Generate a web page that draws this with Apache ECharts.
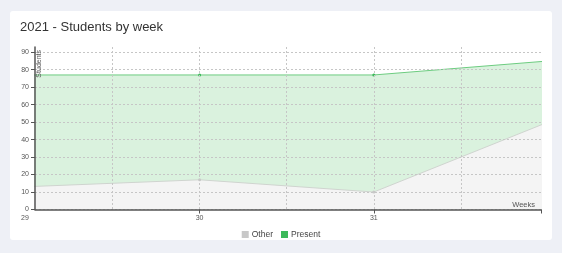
<!DOCTYPE html>
<html>
<head>
<meta charset="utf-8">
<script src="https://cdn.jsdelivr.net/npm/echarts@6/dist/echarts.min.js"></script>
<style>
html,body{margin:0;padding:0;background:#eef0f6;width:562px;height:253px;overflow:hidden;}
#card{position:absolute;left:10px;top:11px;width:542px;height:229px;background:#fff;border-radius:3px;}
#chart{position:absolute;left:0;top:0;width:562px;height:253px;}
</style>
</head>
<body>
<div id="card"></div>
<div id="chart"></div>
<script>
const title = '2021 - Students by week';
const weeks = [29, 30, 31, 32];
const otherValues = [13, 17, 10, 50];
const presentValues = [64, 60, 67, 35];
const xLabelWeeks = [29, 30, 31];
const xGridWeeks = [29.5, 30, 30.5, 31, 31.5];
const yTicks = [0, 10, 20, 30, 40, 50, 60, 70, 80, 90];
const xMin = 29.055, xMax = 31.96;

const font = 'Liberation Sans, Arial, Helvetica, sans-serif';
const chart = echarts.init(document.getElementById('chart'), null, {renderer: 'canvas'});

const labelValues = xLabelWeeks.map(w => w < xMin ? xMin : w);
// stacked totals (Present sits on top of Other)
const presentTop = weeks.map((w, i) => [w, otherValues[i] + presentValues[i]]);
const otherData = weeks.map((w, i) => [w, otherValues[i]]);

chart.setOption({
  animation: false,
  backgroundColor: 'transparent',
  title: {
    text: title, left: 15, top: 16,
    textStyle: {fontFamily: font, fontSize: 13, fontWeight: 500, color: '#333'}
  },
  legend: {
    data: ['Other', 'Present'],
    left: 'center', top: 225,
    icon: 'rect', itemWidth: 7, itemHeight: 7, itemGap: 8,
    textStyle: {fontFamily: font, fontSize: 8.5, color: '#444', padding: [0, 0, 0, -2]}
  },
  grid: {left: 35, right: 21, top: 47, bottom: 43.5, containLabel: false},
  xAxis: [{
    type: 'value', min: xMin, max: xMax, position: 'bottom', z: 10,
    name: 'Weeks', nameLocation: 'end', nameGap: -6,
    nameTextStyle: {fontFamily: font, fontSize: 7.5, color: '#555', align: 'right', verticalAlign: 'bottom', padding: [0, 0, 1, 0]},
    axisLine: {show: true, lineStyle: {color: '#555', width: 1.5}},
    axisTick: {show: true, length: 4, inside: false, customValues: [30, 31, xMax], lineStyle: {color: '#555'}},
    axisLabel: {
      customValues: labelValues, showMinLabel: true, showMaxLabel: true,
      fontFamily: font, fontSize: 7, color: '#555', margin: 5,
      formatter: v => (v < 29.5 ? '{m|' + Math.round(v) + '}' : String(Math.round(v))),
      rich: {m: {fontFamily: font, fontSize: 7, color: '#555', padding: [0, 20, 0, 0]}}
    },
    splitLine: {show: false}
  }, {
    type: 'value', min: xMin, max: xMax, position: 'bottom', z: 9,
    axisLine: {show: false},
    axisTick: {show: false, customValues: xGridWeeks},
    axisLabel: {show: false},
    splitLine: {show: true, lineStyle: {color: '#c6c6c6', type: [2, 2], width: 1}}
  }],
  yAxis: {
    type: 'value', min: 0, max: 93, z: 9,
    name: 'Students', nameLocation: 'end', nameRotate: 90, nameGap: -3,
    nameTextStyle: {fontFamily: font, fontSize: 7, color: '#555', align: 'right', verticalAlign: 'top', padding: [1, 0, 0, 2]},
    axisLine: {show: true, lineStyle: {color: '#555', width: 1.5}},
    axisTick: {show: true, length: 4, customValues: yTicks, lineStyle: {color: '#555'}},
    axisLabel: {customValues: yTicks, fontFamily: font, fontSize: 7, color: '#555', margin: 6},
    splitLine: {show: true, lineStyle: {color: '#c6c6c6', type: [2, 2], width: 1}}
  },
  series: [{
    name: 'Present', type: 'line', xAxisIndex: 0,
    data: presentTop,
    symbol: 'circle', symbolSize: 3, showSymbol: true,
    itemStyle: {color: '#3cb95a'},
    lineStyle: {color: '#6dcc80', width: 1},
    areaStyle: {color: '#daf2de', opacity: 1},
    clip: true, z: 2
  }, {
    name: 'Other', type: 'line', xAxisIndex: 0,
    data: otherData,
    symbol: 'circle', symbolSize: 3, showSymbol: true,
    itemStyle: {color: '#c8c8c8'},
    lineStyle: {color: '#cfd4cf', width: 1},
    areaStyle: {color: '#f4f4f4', opacity: 1},
    clip: true, z: 3
  }]
});
</script>
</body>
</html>
